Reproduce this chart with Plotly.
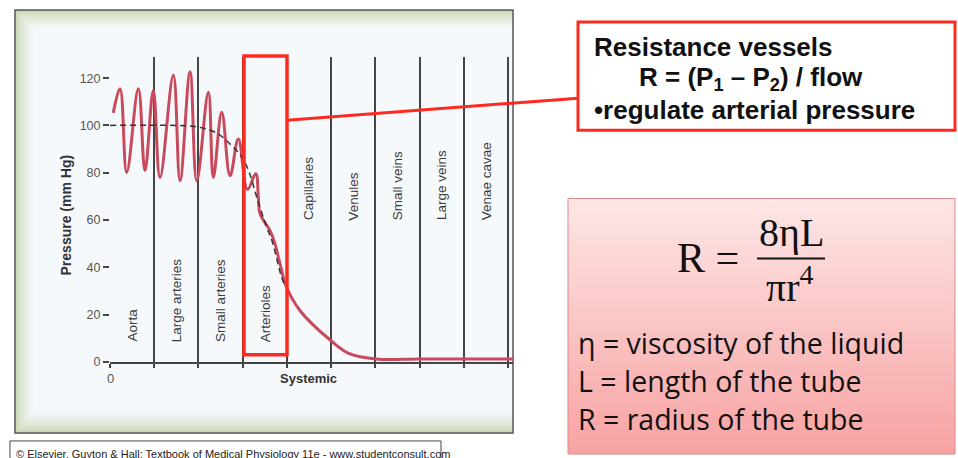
import plotly.graph_objects as go

# Reference frame is 958 x 458; the picture is taken from a slightly taller page
# and scaled to 458, so the figure is made 466 tall and placed in reference units.
W, REF_H, FIG_H = 958, 458, 466

# ---------------- data ----------------
segments = ["Aorta", "Large arteries", "Small arteries", "Arterioles",
            "Capillaries", "Venules", "Small veins", "Large veins", "Venae cavae"]
boundaries = list(range(len(segments) + 1))
y_ticks = [0, 20, 40, 60, 80, 100, 120]

# pulsatile pressure (x in segment units, y in mm Hg)
pressure_x = [0.075, 0.226, 0.378, 0.640, 0.791, 0.979, 1.131, 1.431, 1.583, 1.809, 1.961,
              2.223, 2.336, 2.526, 2.714, 2.901, 3.109, 3.295, 3.353, 3.392, 3.618,
              3.731, 3.806, 3.883, 3.958, 4.297, 4.998, 5.427, 6.015, 7.0, 8.0, 9.11]
pressure_y = [105.3, 115.5, 80.1, 115.5, 80.9, 114.8, 78.0, 121.2, 76.6, 122.6, 76.6,
              114.0, 78.0, 105.6, 78.7, 94.3, 73.0, 79.6, 69.7, 62.6, 55.5,
              49.9, 44.2, 38.6, 33.0, 21.6, 8.9, 3.3, 1.2, 1.2, 1.2, 1.2]

# mean pressure (dashed)
mean_x = [0.0, 1.5, 2.0, 2.41, 2.75, 2.98, 3.15, 3.32, 3.54, 3.66, 3.88, 3.95]
mean_y = [100, 100, 99.3, 96.8, 91.5, 86.6, 80, 69.5, 57, 51.3, 35.7, 32.5]

callout_lines = ["Resistance vessels",
                 "R = (P<sub>1</sub> – P<sub>2</sub>) / flow",
                 "•regulate arterial pressure"]
legend_lines = ["η = viscosity of the liquid",
                "L = length of the tube",
                "R = radius of the tube"]
footer = "© Elsevier. Guyton & Hall: Textbook of Medical Physiology 11e - www.studentconsult.com"


def px(x):
    return x / W


def py(y):
    return 1 - y / REF_H


def mix(c1, c2, t):
    return "rgb(%d,%d,%d)" % tuple(round(a + (b - a) * t) for a, b in zip(c1, c2))


SANS = "Liberation Sans, Arial, sans-serif"
AX = "#454545"

fig = go.Figure()
fig.add_trace(go.Scatter(x=pressure_x, y=pressure_y, mode="lines",
                         line=dict(color="#c94a5c", width=3, shape="spline", smoothing=1.1),
                         hoverinfo="skip"))
fig.add_trace(go.Scatter(x=mean_x, y=mean_y, mode="lines",
                         line=dict(color="#333333", width=1.5, dash="6px,4px", shape="spline"),
                         hoverinfo="skip"))

shapes = []
# green gradient frame
edge = (200, 214, 175)
inner = (246, 249, 252)
n = 12
for i in range(n):
    t = (i / (n - 1)) ** 0.7
    shapes.append(dict(type="rect", xref="paper", yref="paper", layer="below",
                       x0=px(15 + 20 * i / n), x1=px(513),
                       y0=py(432 - 24 * i / n), y1=py(10 + 20 * i / n),
                       line=dict(width=0), fillcolor=mix(edge, inner, t)))
shapes.append(dict(type="rect", xref="paper", yref="paper", layer="below",
                   x0=px(35), x1=px(513), y0=py(408), y1=py(30),
                   line=dict(width=0), fillcolor=mix(edge, inner, 1)))
shapes.append(dict(type="rect", xref="paper", yref="paper", layer="below",
                   x0=px(15), x1=px(513), y0=py(432), y1=py(10),
                   line=dict(width=1.5, color="#555555"), fillcolor="rgba(0,0,0,0)"))

# pink gradient box
top_c = (253, 229, 229)
bot_c = (248, 163, 163)
m = 40
y0b, y1b = 198, 453
for i in range(m):
    a = y0b + (y1b - y0b) * i / m
    b = y0b + (y1b - y0b) * (i + 1) / m
    shapes.append(dict(type="rect", xref="paper", yref="paper", layer="below",
                       x0=px(568), x1=px(955), y0=py(min(b + 0.5, y1b)), y1=py(a),
                       line=dict(width=0), fillcolor=mix(top_c, bot_c, i / (m - 1))))
shapes.append(dict(type="rect", xref="paper", yref="paper", layer="below",
                   x0=px(568), x1=px(955), y0=py(y1b), y1=py(y0b),
                   line=dict(width=1, color="#d98a8a"), fillcolor="rgba(0,0,0,0)"))

RED = "#ff2a1f"
# highlight box, connector, callout box
shapes.append(dict(type="rect", xref="paper", yref="paper", layer="above",
                   x0=px(244), x1=px(287), y0=py(354), y1=py(56),
                   line=dict(width=3.5, color=RED)))
shapes.append(dict(type="line", xref="paper", yref="paper", layer="above",
                   x0=px(287), y0=py(120), x1=px(578), y1=py(98),
                   line=dict(width=3, color=RED)))
shapes.append(dict(type="rect", xref="paper", yref="paper", layer="above",
                   x0=px(578), x1=px(955), y0=py(130), y1=py(22),
                   line=dict(width=3, color=RED), fillcolor="white"))
# fraction bar
shapes.append(dict(type="line", xref="paper", yref="paper", layer="above",
                   x0=px(757), x1=px(825), y0=py(258), y1=py(258),
                   line=dict(width=2, color="#111111")))
# footer box (open at the bottom, cut by the page edge)
shapes.append(dict(type="path", xref="paper", yref="paper", layer="below",
                   path="M%f,%f L%f,%f L%f,%f L%f,%f" % (px(10), py(458), px(10), py(440),
                                                          px(441), py(440), px(441), py(458)),
                   line=dict(width=1, color="#444444")))

ann = []
for i, name in enumerate(segments):
    ann.append(dict(x=boundaries[i] + 0.5, y=7.6 if i < 4 else 59, xref="x", yref="y",
                    text=name, textangle=-90, showarrow=False,
                    xanchor="center", yanchor="bottom",
                    font=dict(family=SANS, size=13.5, color="#3a3a3a")))
ann.append(dict(x=px(66), y=py(215), xref="paper", yref="paper", text="<b>Pressure (mm Hg)</b>",
                textangle=-90, showarrow=False, xanchor="center", yanchor="middle",
                font=dict(family=SANS, size=14, color="#333")))
ann.append(dict(x=px(110), y=py(378), xref="paper", yref="paper", text="0", showarrow=False,
                xanchor="center", yanchor="middle",
                font=dict(family=SANS, size=13, color="#555")))
ann.append(dict(x=px(308), y=py(378), xref="paper", yref="paper", text="<b>Systemic</b>",
                xanchor="center", yanchor="middle",
                showarrow=False, font=dict(family=SANS, size=13, color="#333")))

cx = [592, 637, 592]
cy = [47, 78, 110]
for t, x, y in zip(callout_lines, cx, cy):
    ann.append(dict(x=px(x), y=py(y), xref="paper", yref="paper", text="<b>%s</b>" % t,
                    xanchor="left", yanchor="middle", showarrow=False,
                    font=dict(family=SANS, size=26, color="#111")))

SERIF = "Liberation Serif, Times New Roman, serif"
ann.append(dict(x=px(675), y=py(257), xref="paper", yref="paper", text="R =",
                xanchor="left", yanchor="middle", showarrow=False,
                font=dict(family=SERIF, size=42, color="#111")))
ann.append(dict(x=px(791), y=py(232), xref="paper", yref="paper", text="8ηL",
                xanchor="center", yanchor="middle", showarrow=False,
                font=dict(family=SERIF, size=40, color="#111")))
ann.append(dict(x=px(790), y=py(284), xref="paper", yref="paper", text="πr<sup>4</sup>",
                xanchor="center", yanchor="middle", showarrow=False,
                font=dict(family=SERIF, size=40, color="#111")))

ly = [342, 380, 418]
for t, y in zip(legend_lines, ly):
    ann.append(dict(x=px(576), y=py(y), xref="paper", yref="paper", text=t,
                    xanchor="left", yanchor="middle", showarrow=False,
                    font=dict(family="Open Sans, sans-serif", size=28.5, color="#111")))

ann.append(dict(x=px(14), y=py(453), xref="paper", yref="paper", text=footer,
                xanchor="left", yanchor="middle", showarrow=False,
                font=dict(family=SANS, size=11, color="#222")))

fig.update_layout(
    width=W, height=FIG_H, autosize=False, margin=dict(l=0, r=0, t=0, b=0),
    paper_bgcolor="white", plot_bgcolor="rgba(0,0,0,0)",
    showlegend=False, shapes=shapes, annotations=ann,
    xaxis=dict(domain=[px(110), px(513)], range=[0, 9.11], tickvals=boundaries,
               showticklabels=False, showgrid=True, gridcolor=AX, gridwidth=1.5,
               ticks="outside", ticklen=4, tickcolor=AX, tickwidth=1.5,
               showline=True, linecolor=AX, linewidth=2, zeroline=False, fixedrange=True),
    yaxis=dict(domain=[py(361), py(57)], range=[0, 128.9], tickvals=y_ticks,
               ticks="outside", ticklen=6, tickcolor=AX, tickwidth=1.5,
               tickfont=dict(family=SANS, size=12.5, color="#555"),
               showgrid=False, zeroline=False, showline=False, fixedrange=True),
)

post = "document.body.style.margin='0';document.body.style.overflow='hidden';"
fig.write_html("out.html",
               config={"responsive": False, "displayModeBar": False},
               post_script=post)
